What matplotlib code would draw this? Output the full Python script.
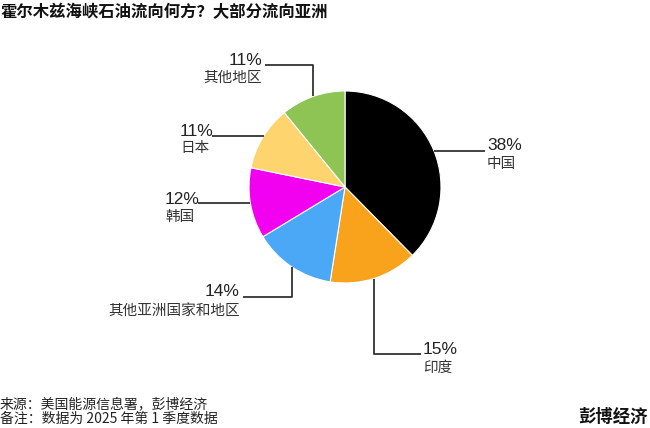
import numpy as np
import matplotlib.pyplot as plt

plt.rcParams['font.family'] = ['Noto Sans CJK SC', 'DejaVu Sans']

# data
regions = ['中国', '印度', '其他亚洲国家和地区', '韩国', '日本', '其他地区']
shares = [38, 15, 14, 12, 11, 11]
colors = ['#000000', '#F9A21C', '#4BA8F6', '#F200F0', '#FDD46E', '#8DC453']

title = '霍尔木兹海峡石油流向何方？大部分流向亚洲'
source = '来源：美国能源信息署，彭博经济'
note = '备注：数据为 2025 年第 1 季度数据'
brand = '彭博经济'

# layout in pixels (y measured from the top)
W, H = 650, 428
cx, cy, r = 345, 187, 96

# label positions: text x, percent y, name y, alignment, leader path, last leg
labels = [
    (487, 145, 164, 'left', [(485, 151)], 'h'),
    (423, 350, 368, 'left', [(421, 354), (374, 354)], 'v'),
    (240, 292, 311, 'right', [(243, 297), (292, 297)], 'v'),
    (165, 199, 217, 'left', [(198, 203)], 'h'),
    (180, 131, 148, 'left', [(212, 136)], 'h'),
    (262, 60, 78, 'right', [(265, 65), (313, 65)], 'v'),
]

fig = plt.figure(figsize=(6.5, 4.28), dpi=100)
ax = fig.add_axes([0, 0, 1, 1])

# y axis points down, so counterclock here reads clockwise on screen
ax.pie(shares, colors=colors, center=(cx, cy), radius=r, startangle=-90,
       counterclock=True, frame=True,
       wedgeprops=dict(edgecolor='white', linewidth=0.8))
ax.set_xlim(0, W)
ax.set_ylim(H, 0)
ax.axis('off')

def edge_point(x, y, leg):
    # where a horizontal/vertical leader meets the pie
    if leg == 'h':
        dx = np.sqrt(r**2 - (y - cy)**2)
        return (cx + np.sign(x - cx) * dx, y)
    dy = np.sqrt(r**2 - (x - cx)**2)
    return (x, cy + np.sign(y - cy) * dy)

for name, val, (tx, py, ny, ha, path, leg) in zip(regions, shares, labels):
    pts = path + [edge_point(path[-1][0], path[-1][1], leg)]
    xs = [p[0] for p in pts]
    ys = [p[1] for p in pts]
    ax.plot(xs, ys, color='#333333', lw=1.3, solid_capstyle='butt')
    ax.text(tx, py, f'{val}%', ha=ha, va='center', fontsize=12.5, color='#222222',
            family=['Liberation Sans', 'DejaVu Sans'])
    ax.text(tx, ny, name, ha=ha, va='center', fontsize=10.5, color='#333333',
            fontweight='medium')

ax.text(0, 12, title, ha='left', va='center', fontsize=11.8, fontweight='bold', color='#111111')
ax.text(0, 404, source, ha='left', va='center', fontsize=10, color='#222222')
ax.text(0, 419, note, ha='left', va='center', fontsize=10, color='#222222')
ax.text(648, 417, brand, ha='right', va='center', fontsize=12.5, fontweight='bold', color='#111111')

fig.savefig('out.png', dpi=100, facecolor='white')
